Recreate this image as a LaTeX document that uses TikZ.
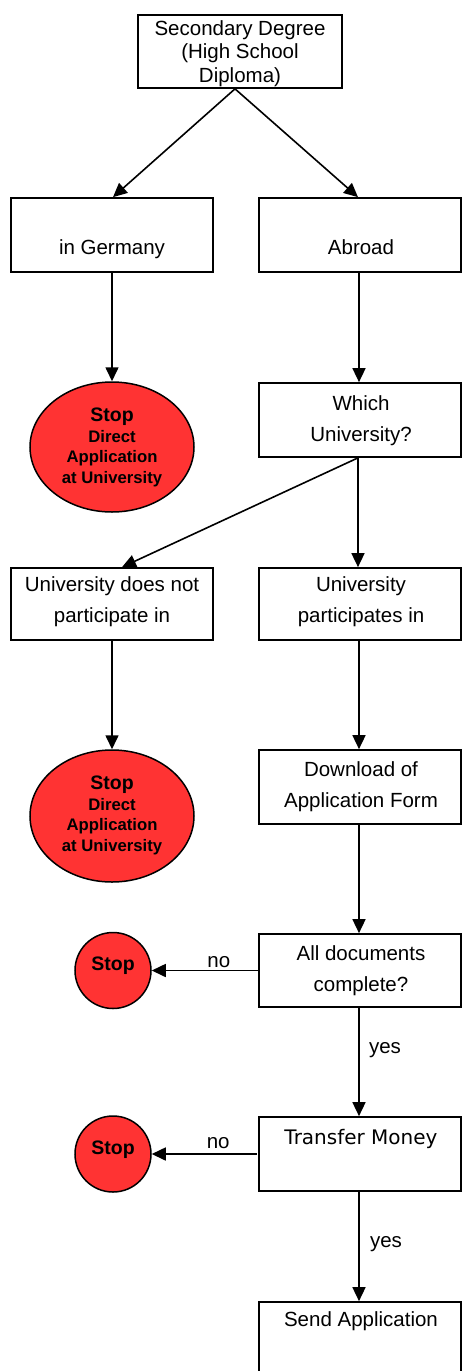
\documentclass[tikz,border=0pt]{standalone}
\usepackage{fontspec}
\setmainfont{Liberation Sans}
\newfontfamily\dvs{DejaVu Sans}
\usetikzlibrary{arrows.meta,shapes.geometric}
\definecolor{stopred}{RGB}{255,51,51}
\begin{document}
\begin{tikzpicture}[x=1pt,y=-1pt,
  box/.style={draw,line width=1.7pt,minimum width=202pt,minimum height=74pt,inner sep=0pt},
  stopbig/.style={draw,fill=stopred,ellipse,line width=1.5pt,minimum width=164pt,minimum height=130pt,inner sep=0pt},
  stopsmall/.style={draw,fill=stopred,circle,line width=1.5pt,minimum size=76pt,inner sep=0pt},
  txt/.style={anchor=base,inner sep=0pt,align=center,font=\fontsize{20.5}{31}\selectfont},
  stoptxt/.style={anchor=base,inner sep=0pt,align=center,font=\bfseries\fontsize{16.7}{20.5}\selectfont},
  arr/.style={line width=1.6pt,-{Triangle[length=14pt,width=13pt]}},
]
\useasboundingbox (0,0) rectangle (461,1371);
% boxes
\node[box,minimum width=204pt,minimum height=73pt] (sec) at (240,51.5) {};
\node[box] (ger) at (112,235) {};
\node[box] (abr) at (360,235) {};
\node[box] (which) at (360,420) {};
\node[box,minimum height=72pt] (nop) at (112,604) {};
\node[box,minimum height=72pt] (par) at (360,604) {};
\node[box] (dl) at (360,787) {};
\node[box,minimum height=73pt] (docs) at (360,970.5) {};
\node[box] (tm) at (360,1154) {};
\node[box] (send) at (360,1339) {};
% stops
\node[stopbig] (s1) at (112,447) {};
\node[stopbig,minimum height=132pt] (s2) at (112,816) {};
\node[stopsmall] (s3) at (113,970.5) {};
\node[stopsmall] (s4) at (113,1154) {};
% connectors
\draw[arr] ([xshift=-5pt]sec.south) -- ([xshift=1pt]ger.north);
\draw[arr] ([xshift=-5pt]sec.south) -- ([xshift=-2pt]abr.north);
\draw[arr] (ger) -- (s1);
\draw[arr] ([xshift=-1pt]abr.south) -- ([xshift=-1pt]which.north);
\draw[arr] ([xshift=-2pt]which.south) -- ([xshift=10pt]nop.north);
\draw[arr] ([xshift=-2pt]which.south) -- ([xshift=-2pt]par.north);
\draw[arr] (nop) -- (s2);
\draw[arr] ([xshift=-1pt]par.south) -- ([xshift=-1pt]dl.north);
\draw[arr] ([xshift=-1pt]dl.south) -- ([xshift=-1pt]docs.north);
\draw[arr] (docs.west) -- (s3.east) node[pos=0.37,txt,anchor=base,yshift=3pt] (no1) {no};
\draw[arr] ([xshift=-1pt]docs.south) -- ([xshift=-1pt]tm.north);
\draw[arr] ([xshift=-1pt]tm.west) -- (s4.east) node[pos=0.37,txt,anchor=base,yshift=6pt] (no2) {no};
\draw[arr] ([xshift=-1pt]tm.south) -- ([xshift=-1pt]send.north);
% texts (multi-line nodes: base anchor = last line baseline)
\node[txt,font=\fontsize{20.5}{23.5}\selectfont] (secT) at (240,82) {Secondary Degree\\(High School\\Diploma)};
\node[txt] (gerT) at (112,254) {in Germany};
\node[txt] (abrT) at (361,254) {Abroad};
\node[txt] (whichT) at (361,441) {Which\\University?};
\node[txt] (nopT) at (112,622.5) {University does not\\participate in};
\node[txt] (parT) at (361,622.5) {University\\participates in};
\node[txt] (dlT) at (361,807) {Download of\\Application Form};
\node[txt] (docsT) at (361,991) {All documents\\complete?};
\node[txt,font=\dvs\fontsize{20}{24}\selectfont] (tmT) at (361,1144) {Transfer Money};
\node[txt] (sendT) at (361,1326) {Send Application};
\node[stoptxt] (s1T) at (112,483) {{\fontsize{19.5}{20.5}\selectfont Stop}\\Direct\\Application\\at University};
\node[stoptxt] (s2T) at (112,851) {{\fontsize{19.5}{20.5}\selectfont Stop}\\Direct\\Application\\at University};
\node[stoptxt,font=\bfseries\fontsize{19.5}{20.5}\selectfont] (s3T) at (113,970) {Stop};
\node[stoptxt,font=\bfseries\fontsize{19.5}{20.5}\selectfont] (s4T) at (113,1154) {Stop};
\node[txt] (yes1) at (385,1053) {yes};
\node[txt] (yes2) at (386,1247) {yes};
\end{tikzpicture}
\end{document}
